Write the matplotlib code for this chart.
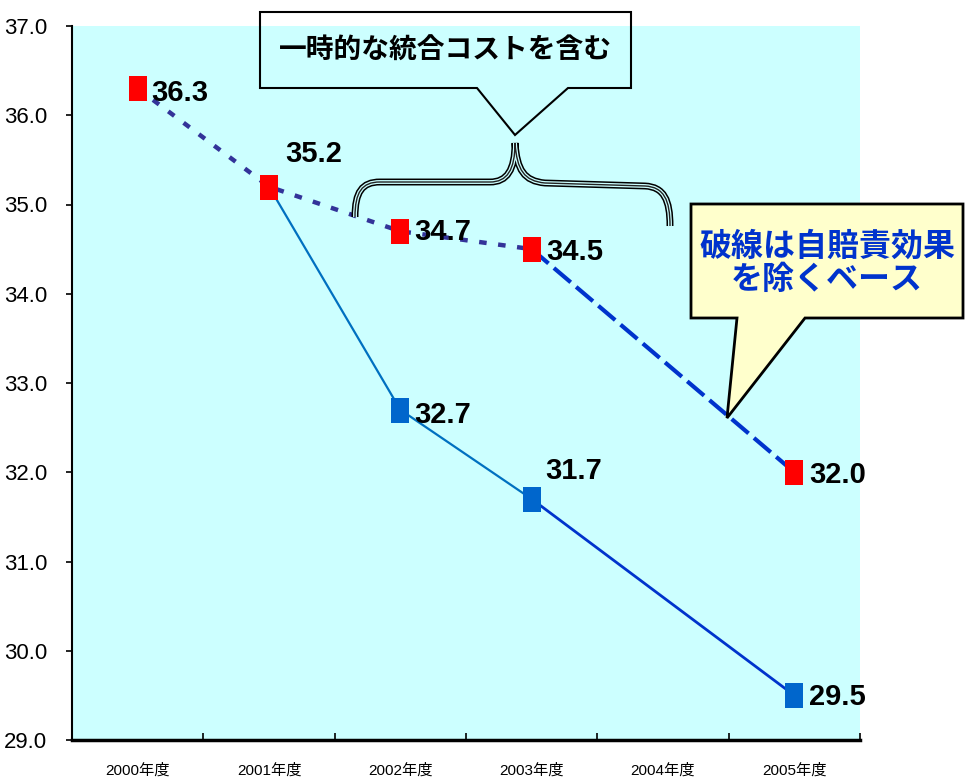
import matplotlib
matplotlib.use('Agg')
import matplotlib.pyplot as plt
import numpy as np
from matplotlib.path import Path
from matplotlib.patches import PathPatch, Polygon

# ---------------- data ----------------
categories = ['2000年度', '2001年度', '2002年度', '2003年度', '2004年度', '2005年度']
base_excl = [36.3, 35.2, 34.7, 34.5, np.nan, 32.0]      # red series (excl. 自賠責効果)
actual = [np.nan, 35.2, 32.7, 31.7, np.nan, 29.5]       # blue series
y_ticks = [29.0, 30.0, 31.0, 32.0, 33.0, 34.0, 35.0, 36.0, 37.0]
callout1_text = '一時的な統合コストを含む'
callout2_text = '破線は自賠責効果\nを除くベース'

# label offsets in pixels (styling)
red_offsets = [(14, -5), (16, 33), (14, -1), (15, -3), None, (15, -3)]
blue_offsets = [None, None, (14, -5), (14, 28), None, (15, -2)]

NUM_FONT = ['Liberation Sans Narrow', 'Liberation Sans', 'DejaVu Sans']
JP_FONT = ['Noto Sans CJK JP', 'DejaVu Sans']
MIX_FONT = ['Liberation Sans Narrow', 'Liberation Sans', 'Noto Sans CJK JP', 'DejaVu Sans']

W, H = 965, 783
fig = plt.figure(figsize=(W / 100, H / 100), dpi=100)
L, R, T, B = 72, 860, 26, 740
ax = fig.add_axes([L / W, 1 - B / H, (R - L) / W, (B - T) / H])
ax.set_facecolor('#CCFFFF')

x = np.arange(len(categories))
red = np.array(base_excl, dtype=float)
blue = np.array(actual, dtype=float)
rv = ~np.isnan(red)
bv = ~np.isnan(blue)
xr, yr = x[rv], red[rv]
xb, yb = x[bv], blue[bv]

# red series lines
ax.plot(xr[:4], yr[:4], color='#333399', lw=3.2, dashes=(1.7, 2.6), zorder=2,
        dash_capstyle='butt')
ax.plot(xr[3:], yr[3:], color='#0033CC', lw=3, dashes=(5.3, 1.7), zorder=2,
        dash_capstyle='butt')
# blue series lines
ax.plot(xb[:3], yb[:3], color='#0070C0', lw=1.6, zorder=2)
ax.plot(xb[2:], yb[2:], color='#0033CC', lw=2.0, zorder=2)

rect = [(-0.36, -0.5), (0.36, -0.5), (0.36, 0.5), (-0.36, 0.5), (-0.36, -0.5)]
ax.plot(xb, yb, linestyle='none', marker=rect, markersize=18, color='#0066CC',
        markeredgewidth=0, zorder=4, clip_on=False)
ax.plot(xr, yr, linestyle='none', marker=rect, markersize=18, color='#FF0000',
        markeredgewidth=0, zorder=5, clip_on=False)

for xi, yi, off in zip(x, red, red_offsets):
    if off is None or np.isnan(yi):
        continue
    ax.annotate(f'{yi:.1f}', (xi, yi), xytext=off, textcoords='offset pixels',
                ha='left', va='center', fontsize=21, fontweight='bold',
                family=NUM_FONT, color='black', zorder=6, annotation_clip=False)
for xi, yi, off in zip(x, blue, blue_offsets):
    if off is None or np.isnan(yi):
        continue
    ax.annotate(f'{yi:.1f}', (xi, yi), xytext=off, textcoords='offset pixels',
                ha='left', va='center', fontsize=21, fontweight='bold',
                family=NUM_FONT, color='black', zorder=6, annotation_clip=False)

ax.set_xlim(-0.5, len(categories) - 0.5)
ax.set_ylim(y_ticks[0], y_ticks[-1])
ax.set_yticks(y_ticks)
ax.set_yticklabels([f'{v:.1f}' for v in y_ticks], family=NUM_FONT, fontsize=16)
ax.set_xticks(x)
ax.set_xticklabels(categories, family=MIX_FONT, fontsize=11)
ax.set_xticks(np.arange(-0.5, len(categories), 1.0), minor=True)
ax.tick_params(axis='x', which='major', length=0, pad=17)
ax.tick_params(axis='x', which='minor', direction='in', length=5, width=1.2, color='black')
ax.tick_params(axis='y', which='major', direction='out', length=4, width=1.2, pad=14)

for s in ['top', 'right']:
    ax.spines[s].set_visible(False)
ax.spines['left'].set_linewidth(1.5)
ax.spines['bottom'].set_linewidth(2.5)

# ---------------- overlay annotations (pixel coordinates) ----------------
ov = fig.add_axes([0, 0, 1, 1], facecolor='none')
ov.set_xlim(0, W)
ov.set_ylim(H, 0)
ov.axis('off')

# callout 1 (transparent box with pointer)
c1 = Polygon([(260, 12), (631, 12), (631, 88), (568, 88), (515, 135), (477, 88), (260, 88)],
             closed=True, facecolor='none', edgecolor='black', lw=1.5, joinstyle='miter')
ov.add_patch(c1)
ov.text(445, 51, callout1_text, ha='center', va='center', fontsize=20,
        fontweight='bold', family=JP_FONT, color='black')

# brace (triple line look)
verts = [(355, 217), (355, 192), (362, 182), (380, 182), (490, 182),
         (507, 182), (515, 170), (515, 143),
         (517, 170), (524, 181), (545, 183), (645, 186),
         (664, 187), (670, 200), (670, 226)]
codes = [Path.MOVETO, Path.CURVE4, Path.CURVE4, Path.CURVE4, Path.LINETO,
         Path.CURVE4, Path.CURVE4, Path.CURVE4,
         Path.CURVE4, Path.CURVE4, Path.CURVE4, Path.LINETO,
         Path.CURVE4, Path.CURVE4, Path.CURVE4]
bp = Path(verts, codes)
ov.add_patch(PathPatch(bp, facecolor='none', edgecolor='black', lw=5.0, capstyle='butt'))
ov.add_patch(PathPatch(bp, facecolor='none', edgecolor='#CCFFFF', lw=2.8, capstyle='butt'))
ov.add_patch(PathPatch(bp, facecolor='none', edgecolor='#222222', lw=1.0, capstyle='butt'))

# callout 2 (yellow box)
c2 = Polygon([(691, 204), (963, 204), (963, 318), (805, 318), (727, 418), (737, 318), (691, 318)],
             closed=True, facecolor='#FFFFCC', edgecolor='black', lw=2, joinstyle='miter')
ov.add_patch(c2)
ov.text(827, 263, callout2_text, ha='center', va='center', fontsize=23,
        fontweight='bold', family=JP_FONT, color='#0033CC', linespacing=1.05)

fig.savefig('out.png', dpi=100)
